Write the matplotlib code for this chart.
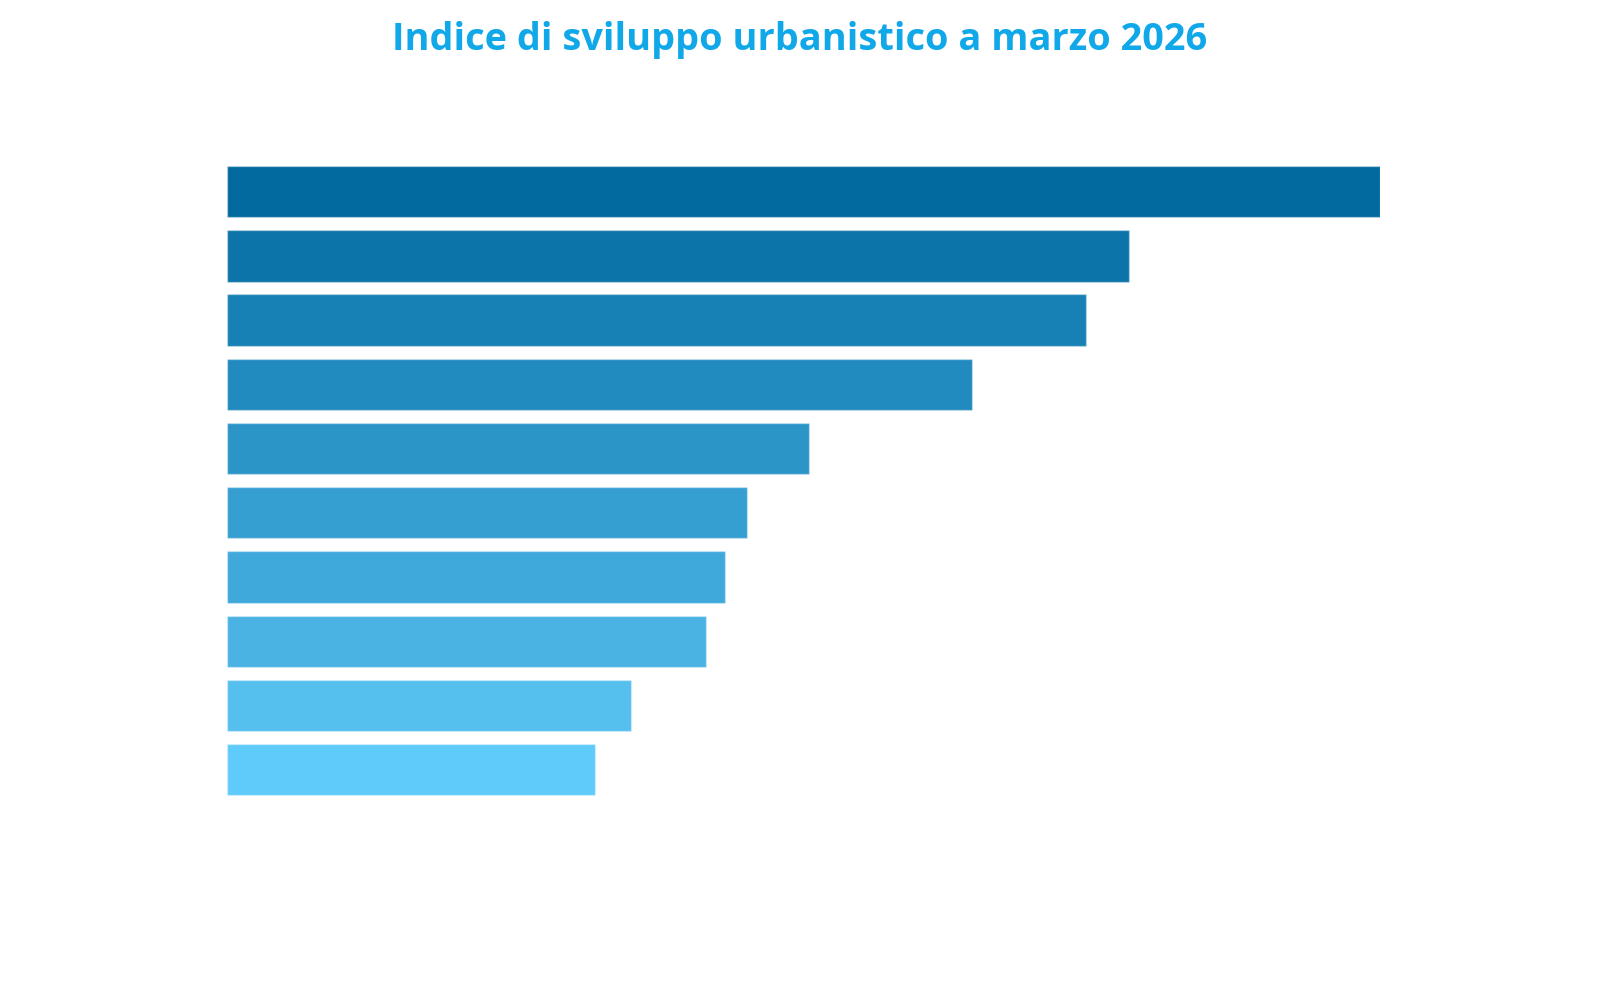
import matplotlib
matplotlib.use("Agg")
import matplotlib.pyplot as plt

# Data (category names are not shown in the reference)
categories = ["Cat 1", "Cat 2", "Cat 3", "Cat 4", "Cat 5",
              "Cat 6", "Cat 7", "Cat 8", "Cat 9", "Cat 10"]
values = [100, 78.2, 74.5, 64.6, 50.5, 45.1, 43.2, 41.5, 35.0, 31.9]
bar_colors = ["#036aa0", "#0d74aa", "#1780b4", "#218bbf", "#2b95c7",
              "#369fd1", "#40a9dc", "#4ab3e4", "#55bfee", "#5fcbfa"]
title = "Indice di sviluppo urbanistico a marzo 2026"

fig = plt.figure(figsize=(16, 10), dpi=100)
ax = fig.add_axes([0.1420, 0.1982, 0.7205, 0.6422])
ypos = list(range(len(categories)))
ax.barh(ypos, values, height=0.8, color=bar_colors,
        edgecolor=(1, 1, 1, 0.35), linewidth=1.0)
ax.set_ylim(len(categories) - 0.5, -0.5)
ax.set_xlim(0, 100)
ax.set_yticks(ypos)
ax.set_yticklabels(categories)
ax.tick_params(left=False, bottom=False, labelleft=False, labelbottom=False)
for s in ax.spines.values():
    s.set_visible(False)

fig.text(0.5, 0.95, title, ha="center", va="baseline",
         fontsize=27.3, fontweight="bold", color="#10a8e8",
         family=["Open Sans", "DejaVu Sans"])

fig.savefig("out.png", dpi=100, facecolor="white")
